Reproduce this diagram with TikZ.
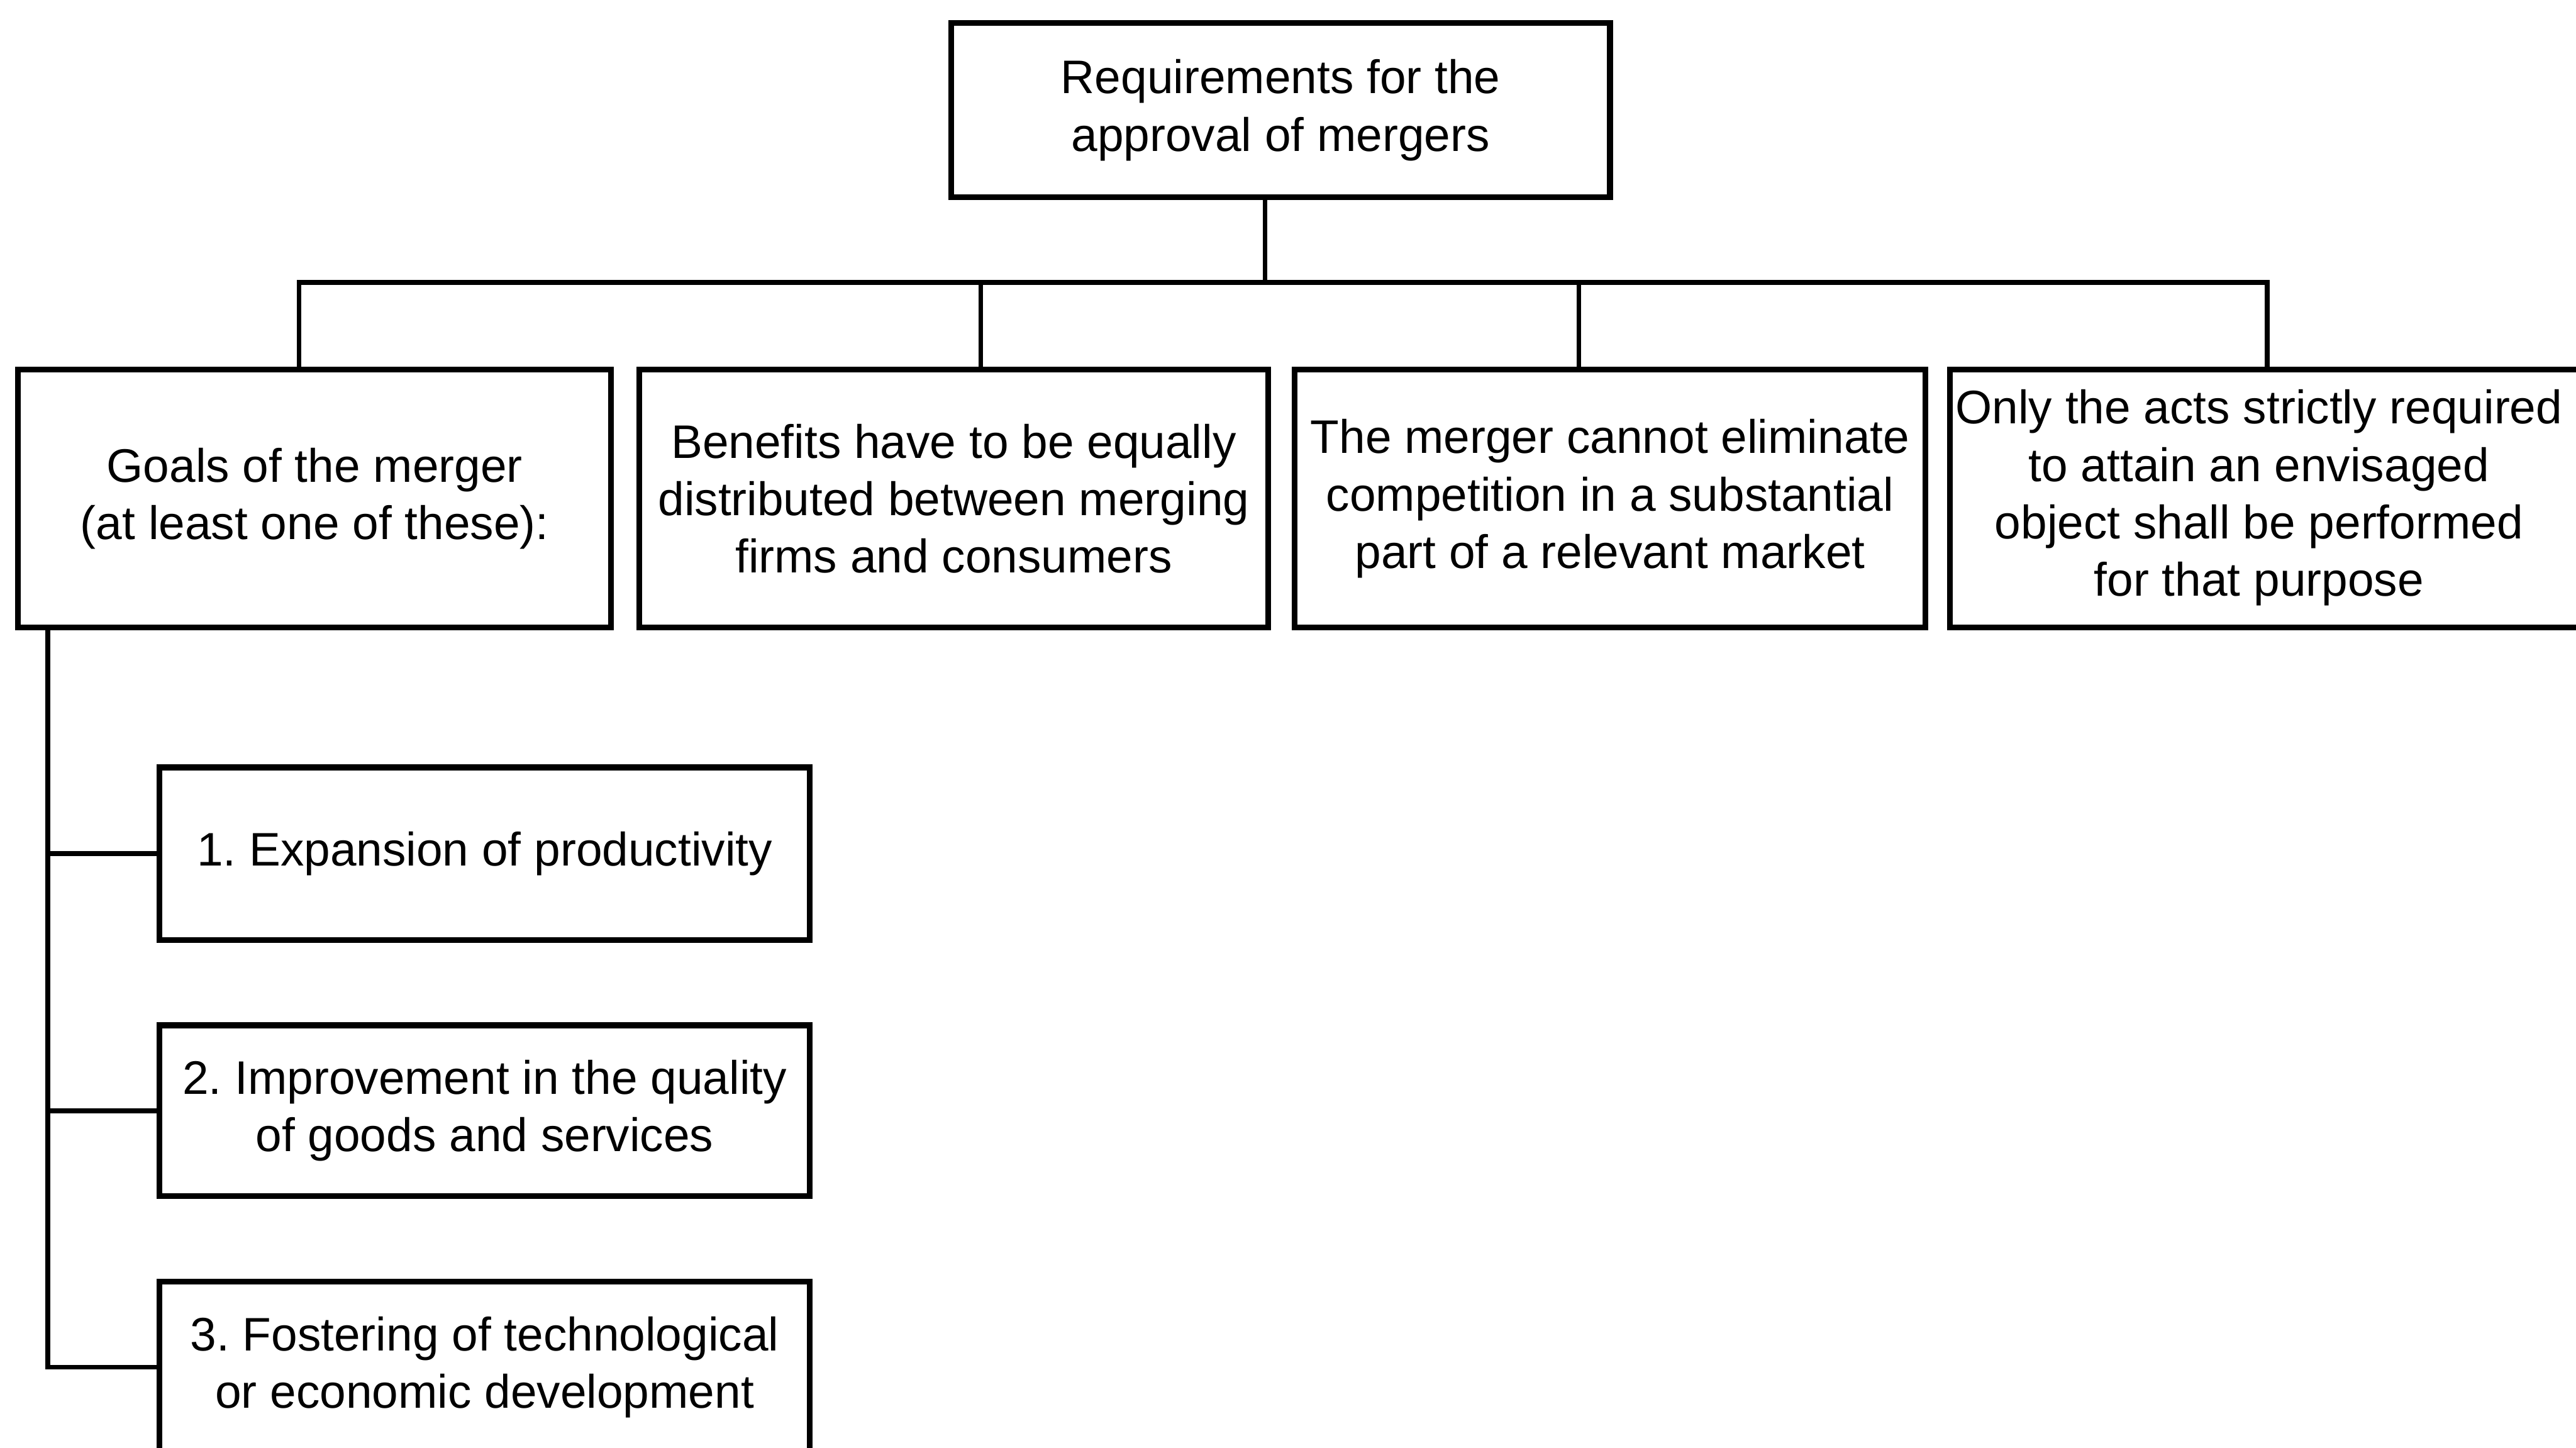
\documentclass[tikz,border=0pt]{standalone}
\usepackage{fontspec}
\setmainfont{Liberation Sans}
\frenchspacing
\begin{document}
\begin{tikzpicture}[
  x=1cm, y=1cm,
  box/.style={draw=black, line width=1pt, fill=white, rectangle, inner sep=0pt,
              align=center, font=\fontsize{8.15}{9.95}\selectfont},
  link/.style={draw=black, line width=0.85pt},
  label/.style={inner sep=0pt, align=center, font=\fontsize{8.15}{9.95}\selectfont}
]
\useasboundingbox (0,0) rectangle (15.68,-8.81);
\clip (0,0) rectangle (15.68,-8.81);

% root
\node[box, minimum width=4.01cm, minimum height=1.06cm] (top) at (7.795,-0.67)
  {Requirements for the\\approval of mergers};

% first level
\node[box, minimum width=3.61cm, minimum height=1.57cm] (b1) at (1.915,-3.035)
  {Goals of the merger\\(at least one of these):};
\node[box, minimum width=3.83cm, minimum height=1.57cm] (b2) at (5.805,-3.035)
  {Benefits have to be equally\\distributed between merging\\firms and consumers};
\node[box, minimum width=3.84cm, minimum height=1.57cm] (b3) at (9.80,-3.035)
  {The merger cannot eliminate\\competition in a substantial\\part of a relevant market};
\node[box, minimum width=3.95cm, minimum height=1.57cm] (b4) at (13.845,-3.035) {};
\node[label] (b4t) at (13.75,-3.03)
  {Only the acts strictly required\\to attain an envisaged\\object shall be performed\\for that purpose};

% goals
\node[box, minimum width=3.96cm, minimum height=1.05cm] (s1) at (2.95,-5.195)
  {1. Expansion of productivity};
\node[box, minimum width=3.96cm, minimum height=1.04cm] (s2) at (2.95,-6.76)
  {2. Improvement in the quality\\of goods and services};
\node[box, minimum width=3.96cm, minimum height=1.04cm] (s3) at (2.95,-8.32)
  {3. Fostering of technological\\or economic development};

% tree connectors
\coordinate (stem) at (7.70,-1.72);
\coordinate (busL) at (1.82,-1.72);
\coordinate (d2) at (5.97,-1.72);
\coordinate (d3) at (9.61,-1.72);
\coordinate (busR) at (13.80,-1.72);
\draw[link] (top.south -| stem) -- (stem);
\draw[link] (b1.north -| busL) -- (busL) -- (busR) -- (b4.north -| busR);
\draw[link] (d2) -- (b2.north -| d2);
\draw[link] (d3) -- (b3.north -| d3);

\coordinate (trunk) at (0.29,-3.82);
\draw[link] (b1.south -| trunk) -- (s3.west -| trunk) -- (s3.west);
\draw[link] (s1.west -| trunk) -- (s1.west);
\draw[link] (s2.west -| trunk) -- (s2.west);
\end{tikzpicture}
\end{document}
